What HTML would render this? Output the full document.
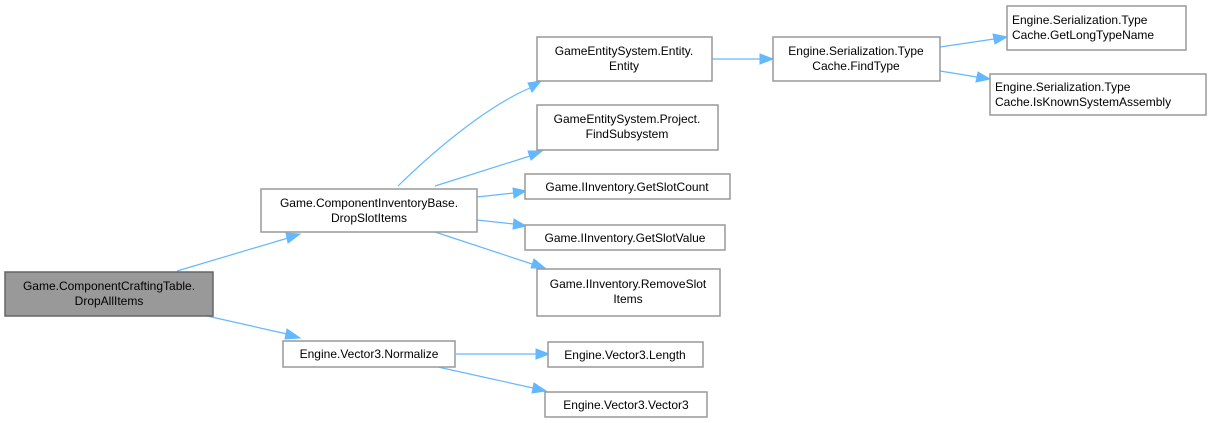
<!DOCTYPE html>
<html><head><meta charset="utf-8"><style>
html,body{margin:0;padding:0;background:#fff;}
svg{display:block;}
text{font-family:"Liberation Sans",Arial,sans-serif;font-size:12px;fill:#000;text-anchor:middle;}
.b{fill:#fff;stroke:#999;stroke-width:1.5;}
.e{fill:none;stroke:#63b8ff;stroke-width:1.2;}
.a{fill:#63b8ff;stroke:#63b8ff;}
</style></head><body>
<svg width="1212" height="423" viewBox="0 0 1212 423" xmlns="http://www.w3.org/2000/svg">
<!-- edges -->
<path class="e" d="M177,271 L288,238"/><polygon class="a" points="286,233 300,234 288,243"/>
<path class="e" d="M207,316 L287,334"/><polygon class="a" points="287,329 300,338 285,339"/>
<path class="e" d="M398,186 C440,145 490,105 530,88"/><polygon class="a" points="528,83 541,81 532,92"/>
<path class="e" d="M435,186 L530,156"/><polygon class="a" points="528,151 542,151 531,160"/>
<path class="e" d="M477,197 L514,193"/><polygon class="a" points="513,188 526,191 514,198"/>
<path class="e" d="M477,220 L514,224"/><polygon class="a" points="514,219 526,226 513,229"/>
<path class="e" d="M435,232 L532,264"/><polygon class="a" points="534,259 545,268 531,268"/>
<path class="e" d="M456,354 L536,354"/><polygon class="a" points="536,349 549,354 536,359"/>
<path class="e" d="M438,367 L533,388"/><polygon class="a" points="534,383 546,391 532,393"/>
<path class="e" d="M712,59 L760,59"/><polygon class="a" points="760,54 773,59 760,64"/>
<path class="e" d="M940,47 L994,39"/><polygon class="a" points="993,34 1007,37 995,44"/>
<path class="e" d="M940,71 L977,77"/><polygon class="a" points="978,72 990,79 976,82"/>
<!-- nodes -->
<rect x="5" y="272" width="208" height="44" fill="#999" stroke="#666" stroke-width="1.5"/>
<text x="109" y="290">Game.ComponentCraftingTable.</text><text x="109" y="305">DropAllItems</text>
<rect class="b" x="261" y="189" width="216" height="43"/>
<text x="369" y="207">Game.ComponentInventoryBase.</text><text x="369" y="222">DropSlotItems</text>
<rect class="b" x="283" y="341" width="172" height="26"/>
<text x="369" y="358">Engine.Vector3.Normalize</text>
<rect class="b" x="537" y="37" width="175" height="44"/>
<text x="624" y="55">GameEntitySystem.Entity.</text><text x="624" y="70">Entity</text>
<rect class="b" x="537" y="105" width="181" height="45"/>
<text x="627" y="123">GameEntitySystem.Project.</text><text x="627" y="138">FindSubsystem</text>
<rect class="b" x="525" y="174" width="205" height="25"/>
<text x="627" y="191">Game.IInventory.GetSlotCount</text>
<rect class="b" x="525" y="225" width="200" height="25"/>
<text x="625" y="242">Game.IInventory.GetSlotValue</text>
<rect class="b" x="537" y="269" width="183" height="47"/>
<text x="628" y="288">Game.IInventory.RemoveSlot</text><text x="628" y="303">Items</text>
<rect class="b" x="548" y="342" width="155" height="25"/>
<text x="625" y="359">Engine.Vector3.Length</text>
<rect class="b" x="545" y="392" width="162" height="25"/>
<text x="626" y="409">Engine.Vector3.Vector3</text>
<rect class="b" x="773" y="37" width="167" height="44"/>
<text x="856" y="55">Engine.Serialization.Type</text><text x="856" y="70">Cache.FindType</text>
<rect class="b" x="1007" y="6" width="179" height="44"/>
<text x="1012" y="24" style="text-anchor:start">Engine.Serialization.Type</text><text x="1012" y="39" style="text-anchor:start">Cache.GetLongTypeName</text>
<rect class="b" x="990" y="74" width="216" height="41"/>
<text x="995" y="91" style="text-anchor:start">Engine.Serialization.Type</text><text x="995" y="106" style="text-anchor:start">Cache.IsKnownSystemAssembly</text>
</svg>
</body></html>
